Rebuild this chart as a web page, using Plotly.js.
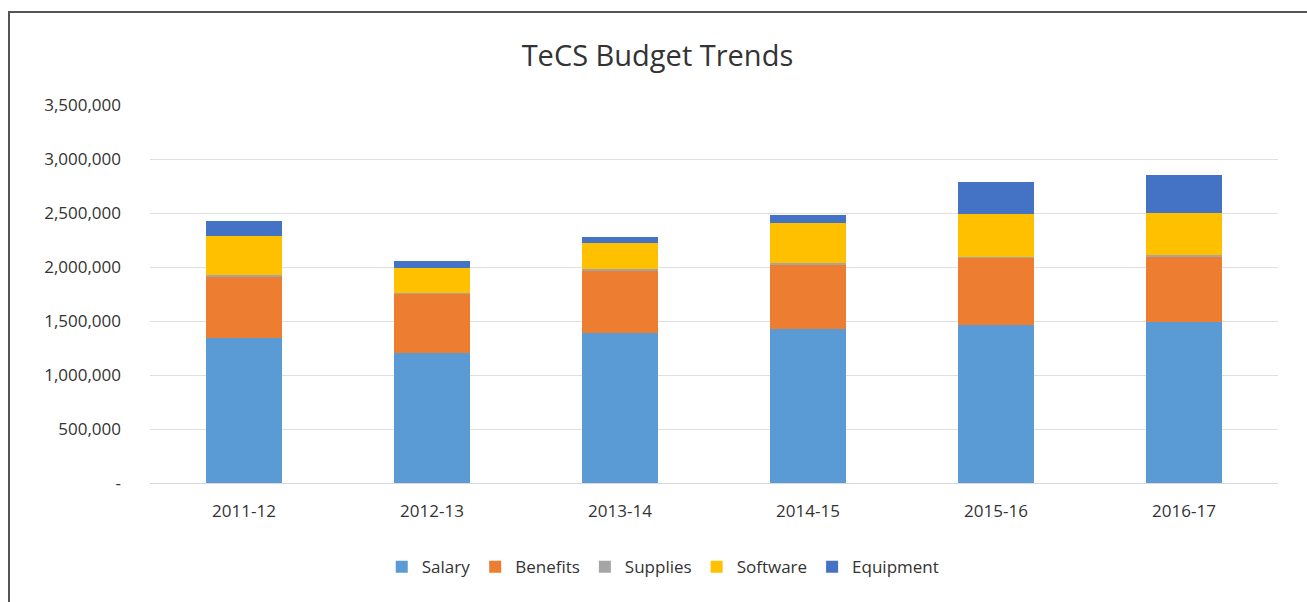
<!DOCTYPE html>
<html>
<head>
<meta charset="utf-8">
<script src="https://cdn.plot.ly/plotly-3.0.1.min.js"></script>
<style>
html,body{margin:0;padding:0;background:#fff;}
#chart{position:absolute;left:0;top:0;width:1307px;height:602px;}
#frame{position:absolute;left:8px;top:11px;width:1310px;height:600px;border-left:2px solid #555;border-top:2px solid #555;pointer-events:none;}
</style>
</head>
<body>
<div id="chart"></div>
<div id="frame"></div>
<script>
const categories = ["2011-12","2012-13","2013-14","2014-15","2015-16","2016-17"];
const salary    = [1340000, 1200000, 1392000, 1423000, 1463000, 1494000];
const benefits  = [ 565000,  546000,  574000,  596000,  617000,  601000];
const supplies  = [  18000,   15000,   15000,   15000,   15000,   15000];
const software  = [ 364000,  226000,  238000,  376000,  396000,  393000];
const equipment = [ 142000,   70000,   62000,   71000,  299000,  349000];
const yTickVals = [0, 500000, 1000000, 1500000, 2000000, 2500000, 3000000, 3500000];
const yTickText = ["-", "500,000", "1,000,000", "1,500,000", "2,000,000", "2,500,000", "3,000,000", "3,500,000"];

const series = [
  {name: "Salary", values: salary, color: "#5B9BD5"},
  {name: "Benefits", values: benefits, color: "#ED7D31"},
  {name: "Supplies", values: supplies, color: "#A5A5A5"},
  {name: "Software", values: software, color: "#FFC000"},
  {name: "Equipment", values: equipment, color: "#4472C4"}
];

const traces = series.map(s => ({
  type: "bar",
  name: s.name,
  x: categories,
  y: s.values,
  marker: {color: s.color},
  hoverinfo: "x+y+name"
}));

const font = "'Open Sans', 'DejaVu Sans', sans-serif";
const layout = {
  width: 1307,
  height: 602,
  barmode: "stack",
  bargap: 0.6,
  margin: {l: 150, r: 29, t: 105, b: 119},
  paper_bgcolor: "#ffffff",
  plot_bgcolor: "#ffffff",
  title: {text: "TeCS Budget Trends", x: 0.503, xanchor: "center", y: 0.908, yanchor: "middle",
          font: {family: font, size: 29, color: "#333333"}},
  xaxis: {
    type: "category",
    tickfont: {family: font, size: 17, color: "#333333"},
    showline: true, linecolor: "#d9d9d9", linewidth: 1,
    ticks: "outside", ticklen: 13, tickcolor: "rgba(0,0,0,0)"
  },
  yaxis: {
    range: [0, 3500000],
    tickvals: yTickVals,
    ticktext: yTickText,
    tickfont: {family: font, size: 17, color: "#333333"},
    showgrid: true, gridcolor: "#e0e0e0", gridwidth: 1,
    zeroline: false, ticks: "", ticklabelstandoff: 28
  },
  legend: {
    orientation: "h", x: 0.455, xanchor: "center", y: -0.175, yanchor: "top",
    font: {family: font, size: 17, color: "#333333"},
    itemwidth: 30, traceorder: "normal"
  },
  showlegend: true
};

Plotly.newPlot("chart", traces, layout, {displayModeBar: false, staticPlot: true});
</script>
</body>
</html>
